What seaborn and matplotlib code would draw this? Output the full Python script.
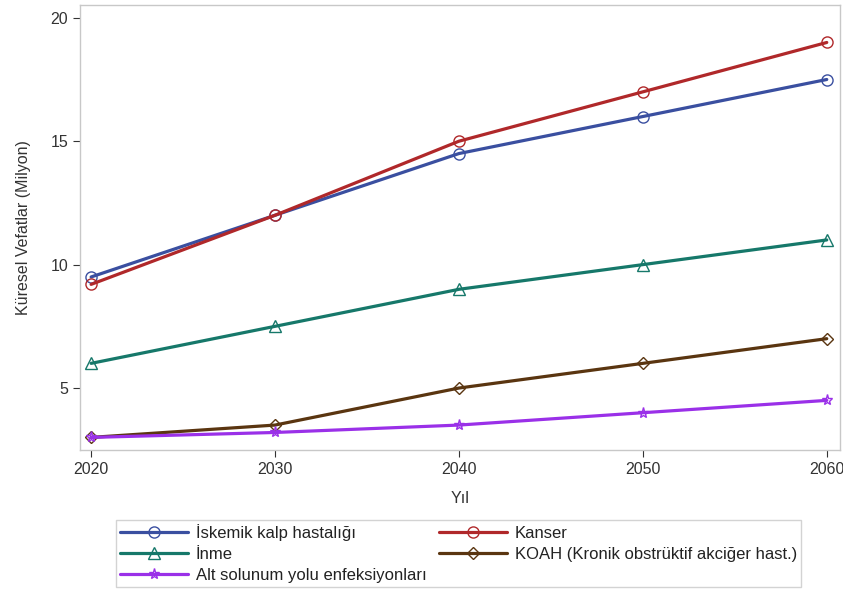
import matplotlib
matplotlib.use("Agg")
import matplotlib.pyplot as plt
import numpy as np
import pandas as pd
import seaborn as sns

yillar = [2020, 2030, 2040, 2050, 2060]
iskemik = [9.5, 12.0, 14.5, 16.0, 17.5]
kanser = [9.2, 12.0, 15.0, 17.0, 19.0]
inme = [6.0, 7.5, 9.0, 10.0, 11.0]
koah = [3.0, 3.5, 5.0, 6.0, 7.0]
alt_solunum = [3.0, 3.2, 3.5, 4.0, 4.5]

seriler = [
    ("İskemik kalp hastalığı", iskemik, "#3a4fa0", "o"),
    ("Kanser", kanser, "#b0282a", "o"),
    ("İnme", inme, "#16786a", "^"),
    ("KOAH (Kronik obstrüktif akciğer hast.)", koah, "#5a3510", "D"),
    ("Alt solunum yolu enfeksiyonları", alt_solunum, "#9a30e8", "*"),
]

sns.set_style("white")
plt.rcParams["font.family"] = ["Liberation Sans", "DejaVu Sans"]

fig = plt.figure(figsize=(8.43, 5.89), dpi=100)
ax = fig.add_axes([0.095, 0.236, 0.901, 0.756])

for ad, deger, renk, isaret in seriler:
    df = pd.DataFrame({"Yıl": yillar, "deger": deger})
    sns.lineplot(data=df, x="Yıl", y="deger", ax=ax, color=renk, linewidth=2.3,
                 marker=isaret, markersize=8 if isaret != "D" else 6.5,
                 markerfacecolor="none", markeredgecolor=renk, markeredgewidth=1.0,
                 label=ad)

ax.set_xlim(2019.4, 2060.7)
ax.set_ylim(2.49, 20.53)
ax.set_xticks(yillar)
ax.set_yticks([5, 10, 15, 20])
ax.tick_params(axis="both", labelsize=11.5, colors="#333333", length=5, width=0.8,
               left=True, bottom=True)
for sp in ax.spines.values():
    sp.set_color("#c8c8c8")
    sp.set_linewidth(1.0)
ax.set_xlabel("Yıl", fontsize=11.5, color="#333333", labelpad=10)
ax.set_ylabel("Küresel Vefatlar (Milyon)", fontsize=11.5, color="#333333", labelpad=14)

handles, labels = ax.get_legend_handles_labels()
ax.get_legend().remove()
sira = [0, 2, 4, 1, 3]
leg = fig.legend([handles[i] for i in sira], [labels[i] for i in sira],
                 loc="lower center", bbox_to_anchor=(0.544, -0.0105),
                 ncol=2, fontsize=12, frameon=True, fancybox=False,
                 handlelength=4.1, handletextpad=0.45, columnspacing=0.75,
                 labelspacing=0.36, borderpad=0.25)
leg.get_frame().set_edgecolor("#c8c8c8")
leg.get_frame().set_linewidth(1.0)
for t in leg.get_texts():
    t.set_color("#222222")

fig.savefig("out.png", dpi=100)
